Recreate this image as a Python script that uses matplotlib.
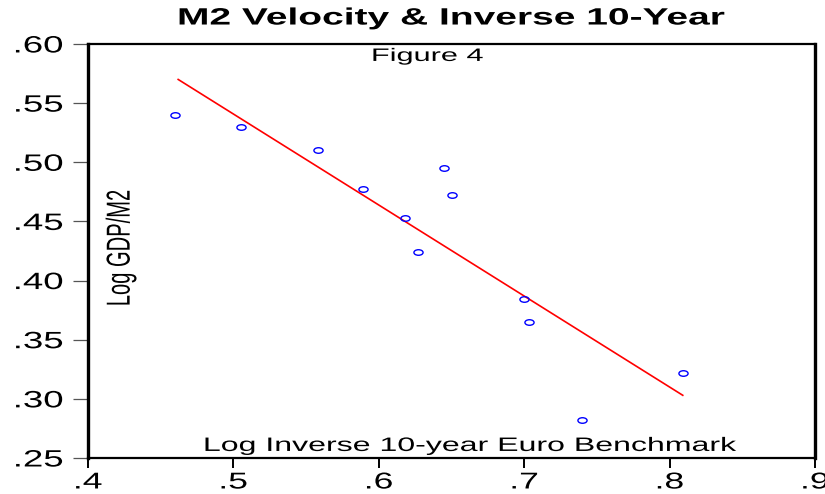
import matplotlib
matplotlib.use("Agg")
import matplotlib.pyplot as plt
import matplotlib.ticker as plticker
import matplotlib.patheffects as pe
from matplotlib.markers import MarkerStyle
from matplotlib.transforms import Affine2D

# scatter points
inv_10y = [0.460, 0.505, 0.558, 0.589, 0.618, 0.627, 0.645, 0.650, 0.700, 0.703, 0.740, 0.809]
log_vel = [0.540, 0.530, 0.510, 0.477, 0.453, 0.424, 0.495, 0.472, 0.384, 0.365, 0.282, 0.322]

# fitted regression line (end points)
fit_x = [0.462, 0.809]
fit_y = [0.570, 0.303]

x_ticks = [0.4, 0.5, 0.6, 0.7, 0.8, 0.9]
y_ticks = [0.25, 0.30, 0.35, 0.40, 0.45, 0.50, 0.55, 0.60]

plt.rcParams['font.family'] = ['Liberation Sans', 'DejaVu Sans']

# the original picture is stretched sideways, text included
SX = 1.65


class HStretch(pe.AbstractPathEffect):
    """Widen a text path in display x around one of its edges."""

    def __init__(self, sx=SX, anchor='center'):
        super().__init__()
        self.sx = sx
        self.anchor = anchor

    def draw_path(self, renderer, gc, tpath, affine, rgbFace=None):
        bb = tpath.get_extents(affine)
        cx = {'left': bb.x0, 'center': 0.5 * (bb.x0 + bb.x1), 'right': bb.x1}[self.anchor]
        aff = affine + Affine2D().translate(-cx, 0).scale(self.sx, 1).translate(cx, 0)
        renderer.draw_path(gc, tpath, aff, rgbFace)


def strip_zero(v, nd):
    s = f"{v:.{nd}f}"
    return s[1:] if s.startswith("0") else s


fig = plt.figure(figsize=(8.25, 4.94), dpi=100)
ax = fig.add_axes([0.1067, 0.0729, 0.8813, 0.8381])

oval = MarkerStyle('o', fillstyle='none', transform=Affine2D().scale(SX, 1))
ax.plot(fit_x, fit_y, color='red', lw=1.2)
ax.plot(inv_10y, log_vel, linestyle='none', marker=oval, ms=4, mec='blue', mew=1.0)

ax.set_xlim(0.4, 0.9)
ax.set_ylim(0.25, 0.60)
ax.set_xticks(x_ticks)
ax.set_yticks(y_ticks)
ax.xaxis.set_major_formatter(plticker.FuncFormatter(lambda v, p: strip_zero(v, 1)))
ax.yaxis.set_major_formatter(plticker.FuncFormatter(lambda v, p: strip_zero(v, 2)))
ax.tick_params(axis='y', length=11, width=0.9, color='#555555', labelsize=17, pad=7)
ax.tick_params(axis='x', length=7, width=1.4, color='black', labelsize=16.5, pad=2)
plt.setp(ax.get_yticklabels(), path_effects=[HStretch(1.55, 'right')])
plt.setp(ax.get_xticklabels(), path_effects=[HStretch(1.55, 'center')])

for side in ('left', 'right'):
    ax.spines[side].set_linewidth(2.4)
for side in ('top', 'bottom'):
    ax.spines[side].set_linewidth(1.6)

ax.set_title("M2 Velocity & Inverse 10-Year", fontsize=17, fontweight='bold', pad=14,
             path_effects=[HStretch()])
ax.text(0.467, 0.959, "Figure 4", transform=ax.transAxes, ha='center', va='baseline',
        fontsize=13, path_effects=[HStretch(1.7)])
ax.text(0.527, 0.017, "Log Inverse 10-year Euro Benchmark", transform=ax.transAxes,
        ha='center', va='baseline', fontsize=14, path_effects=[HStretch()])
ax.text(0.045, 0.507, "Log GDP/M2", transform=ax.transAxes, rotation=90,
        ha='center', va='center', fontsize=14.5, path_effects=[HStretch()])

fig.savefig("out.png", dpi=100)
